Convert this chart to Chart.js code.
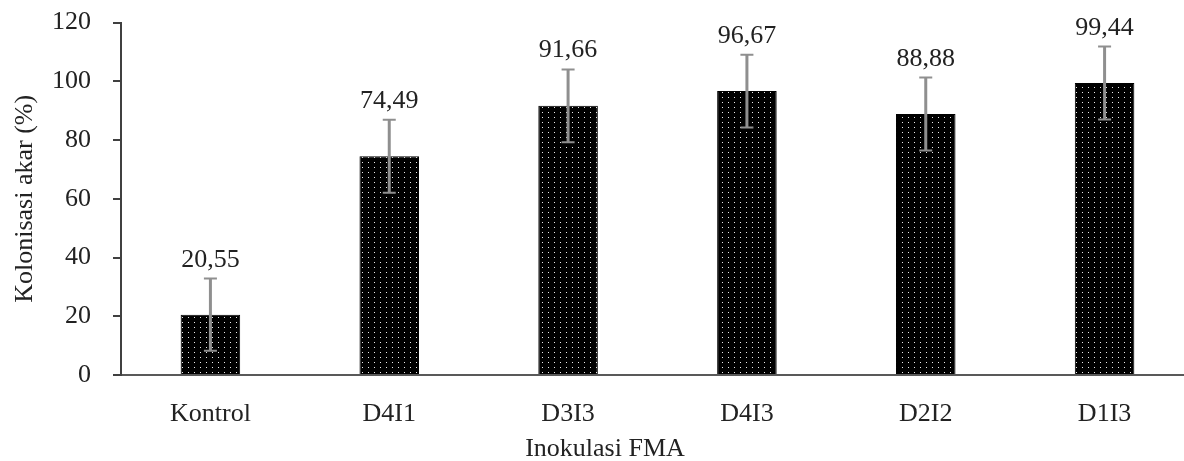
<!DOCTYPE html>
<html>
<head>
<meta charset="utf-8">
<script src="https://cdn.jsdelivr.net/npm/chart.js@4"></script>
<style>
  html, body { margin: 0; padding: 0; background: #fff; overflow: hidden; }
  #wrap { width: 1194px; height: 476px; position: absolute; left: 0; top: -15px; }
</style>
</head>
<body>
<div id="wrap"><canvas id="chart"></canvas></div>
<script>
// data
const categories = ["Kontrol", "D4I1", "D3I3", "D4I3", "D2I2", "D1I3"];
const colonisation = [20.55, 74.49, 91.66, 96.67, 88.88, 99.44];
const errors = [12.3, 12.4, 12.4, 12.4, 12.4, 12.4];
const yTicks = [0, 20, 40, 60, 80, 100, 120];

const serif = '"Liberation Serif", "Times New Roman", serif';

// black fill with a grid of small light dots
function dotPattern() {
  const c = document.createElement("canvas");
  c.width = 6;
  c.height = 5;
  const g = c.getContext("2d");
  g.fillStyle = "#000";
  g.fillRect(0, 0, 6, 5);
  g.fillStyle = "#ececec";
  g.fillRect(2, 2, 1, 1);
  return g.createPattern(c, "repeat");
}

const extras = {
  id: "extras",
  afterDatasetsDraw(chart) {
    const ctx = chart.ctx;
    const y = chart.scales.y;
    const meta = chart.getDatasetMeta(0);
    ctx.save();
    meta.data.forEach((bar, i) => {
      const top = y.getPixelForValue(colonisation[i] + errors[i]);
      const bot = y.getPixelForValue(colonisation[i] - errors[i]);
      ctx.strokeStyle = "#8f8f8f";
      ctx.lineWidth = 3;
      ctx.beginPath();
      ctx.moveTo(bar.x, top);
      ctx.lineTo(bar.x, bot);
      ctx.stroke();
      ctx.lineWidth = 2;
      ctx.beginPath();
      ctx.moveTo(bar.x - 6.5, top);
      ctx.lineTo(bar.x + 6.5, top);
      ctx.moveTo(bar.x - 6.5, bot);
      ctx.lineTo(bar.x + 6.5, bot);
      ctx.stroke();

      ctx.fillStyle = "#222";
      ctx.font = "26px " + serif;
      ctx.textAlign = "center";
      ctx.textBaseline = "alphabetic";
      ctx.fillText(colonisation[i].toFixed(2).replace(".", ","), bar.x, top - 12);
    });
    // x axis title, centred on the whole chart as in the original
    ctx.fillStyle = "#222";
    ctx.font = "26px " + serif;
    ctx.textAlign = "center";
    ctx.fillText("Inokulasi FMA", 605, chart.scales.x.bottom - 5);
    ctx.restore();
  }
};

new Chart(document.getElementById("chart"), {
  type: "bar",
  data: {
    labels: categories,
    datasets: [{
      data: colonisation,
      backgroundColor: dotPattern(),
      borderColor: "#000",
      borderWidth: 1,
      barPercentage: 1,
      categoryPercentage: 0.333
    }]
  },
  options: {
    responsive: true,
    maintainAspectRatio: false,
    animation: false,
    layout: { padding: { top: 8, left: 0, right: 0, bottom: 0 } },
    plugins: {
      legend: { display: false },
      tooltip: { enabled: false }
    },
    scales: {
      x: {
        grid: { display: false },
        border: { color: "#595959", width: 2 },
        ticks: {
          color: "#222",
          padding: 16,
          font: { family: serif, size: 26 }
        },
        afterFit(axis) { axis.height = 86; }
      },
      y: {
        min: 0,
        max: 120,
        afterBuildTicks(axis) { axis.ticks = yTicks.map(v => ({ value: v })); },
        grid: {
          drawOnChartArea: false,
          drawTicks: true,
          tickLength: 8,
          color: "#404040",
          lineWidth: 2
        },
        border: { color: "#404040", width: 2 },
        ticks: {
          color: "#222",
          padding: 22,
          font: { family: serif, size: 26 }
        },
        title: {
          display: true,
          text: "Kolonisasi akar (%)",
          color: "#222",
          padding: { top: 10, bottom: 0 },
          font: { family: serif, size: 26 }
        },
        afterFit(axis) { axis.width = 121; }
      }
    }
  },
  plugins: [extras]
});
</script>
</body>
</html>
